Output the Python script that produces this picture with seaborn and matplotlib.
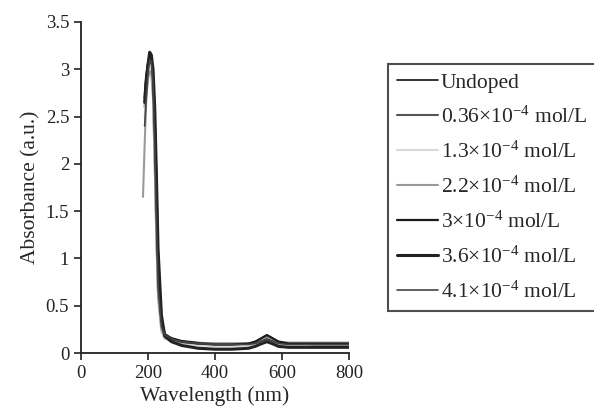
import numpy as np
import pandas as pd
import matplotlib
matplotlib.use('Agg')
import matplotlib.pyplot as plt
import seaborn as sns

# 파장 (nm)
wavelength = [185, 190, 195, 200, 205, 210, 215, 220, 225, 230,
              240, 250, 270, 300, 350, 400, 450, 500, 520, 540,
              555, 570, 590, 620, 700, 800]

nan = np.nan
undoped = [nan, 2.75, 2.95, 3.08, 3.15, 3.12, 2.9, 2.3, 1.5, 0.8,
           0.3, 0.2, 0.16, 0.13, 0.11, 0.1, 0.1, 0.1, 0.11, 0.13,
           0.15, 0.13, 0.11, 0.1, 0.1, 0.1]
c036 = [nan, 2.6, 2.85, 3.0, 3.1, 3.05, 2.8, 2.1, 1.3, 0.65,
        0.25, 0.17, 0.14, 0.11, 0.09, 0.08, 0.08, 0.09, 0.1, 0.12,
        0.14, 0.12, 0.1, 0.09, 0.08, 0.08]
c13 = [nan, 2.5, 2.75, 2.95, 3.05, 3.0, 2.7, 2.0, 1.2, 0.6,
       0.22, 0.15, 0.12, 0.1, 0.08, 0.07, 0.07, 0.08, 0.09, 0.11,
       0.13, 0.11, 0.09, 0.08, 0.07, 0.07]
c22 = [1.65, 2.2, 2.7, 2.9, 2.98, 2.95, 2.7, 2.0, 1.2, 0.6,
       0.25, 0.16, 0.13, 0.11, 0.1, 0.1, 0.1, 0.1, 0.12, 0.15,
       0.17, 0.15, 0.12, 0.11, 0.11, 0.11]
c3 = [nan, 2.7, 2.9, 3.05, 3.12, 3.1, 2.95, 2.5, 1.8, 1.0,
      0.35, 0.2, 0.15, 0.12, 0.1, 0.09, 0.09, 0.1, 0.12, 0.16,
      0.19, 0.16, 0.12, 0.1, 0.1, 0.1]
c36 = [nan, 2.65, 2.9, 3.05, 3.18, 3.15, 3.0, 2.6, 1.9, 1.1,
       0.4, 0.18, 0.12, 0.08, 0.05, 0.04, 0.04, 0.05, 0.07, 0.1,
       0.12, 0.1, 0.07, 0.06, 0.06, 0.06]
c41 = [nan, 2.4, 2.7, 2.95, 3.1, 3.08, 2.85, 2.2, 1.4, 0.7,
       0.28, 0.19, 0.15, 0.12, 0.1, 0.09, 0.09, 0.09, 0.1, 0.12,
       0.14, 0.12, 0.1, 0.09, 0.09, 0.09]

labels = ['Undoped',
          '0.36×10$^{-4}$ mol/L',
          '1.3×10$^{-4}$ mol/L',
          '2.2×10$^{-4}$ mol/L',
          '3×10$^{-4}$ mol/L',
          '3.6×10$^{-4}$ mol/L',
          '4.1×10$^{-4}$ mol/L']
series = [undoped, c036, c13, c22, c3, c36, c41]
colors = ['#111111', '#555555', '#d9d9d9', '#9a9a9a', '#1a1a1a', '#222222', '#444444']
widths = [1.2, 1.5, 1.5, 1.5, 1.6, 2.2, 1.2]

sns.set_style('ticks')
plt.rcParams['font.family'] = ['Liberation Serif', 'DejaVu Serif']
plt.rcParams['mathtext.fontset'] = 'custom'
plt.rcParams['mathtext.rm'] = 'Liberation Serif'
plt.rcParams['mathtext.it'] = 'Liberation Serif'

fig = plt.figure(figsize=(5.94, 4.09), dpi=100)
ax = fig.add_axes([81/594, 1-353/409, (349-81)/594, (353-22)/409])

for vals, lab, col, lw in zip(series, labels, colors, widths):
    df = pd.DataFrame({'wl': wavelength, 'abs': vals}).dropna()
    sns.lineplot(data=df, x='wl', y='abs', color=col, lw=lw, label=lab, ax=ax)

ax.set_xlim(0, 800)
ax.set_ylim(0, 3.5)
ax.set_xticks([0, 200, 400, 600, 800])
ax.set_yticks([0, 0.5, 1, 1.5, 2, 2.5, 3, 3.5])
ax.set_yticklabels(['0', '0.5', '1', '1.5', '2', '2.5', '3', '3.5'])
ax.tick_params(labelsize=13.5, width=1.2, length=5, colors='#222222')
for s in ['left', 'bottom']:
    ax.spines[s].set_linewidth(1.3)
    ax.spines[s].set_color('#222222')
sns.despine(ax=ax)
ax.set_xlabel('Wavelength (nm)', fontsize=15.5, labelpad=3)
ax.set_ylabel('Absorbance (a.u.)', fontsize=15.5, labelpad=4)

leg = ax.legend(loc='upper left', bbox_to_anchor=(388/594, 1-64/409),
                bbox_transform=fig.transFigure, fontsize=15.5, frameon=True,
                fancybox=False, edgecolor='#222222', labelspacing=0.64,
                handlelength=1.9, handletextpad=0.15, borderpad=0.4,
                borderaxespad=0)
leg.get_frame().set_linewidth(1.5)

fig.savefig('out.png', dpi=100)
